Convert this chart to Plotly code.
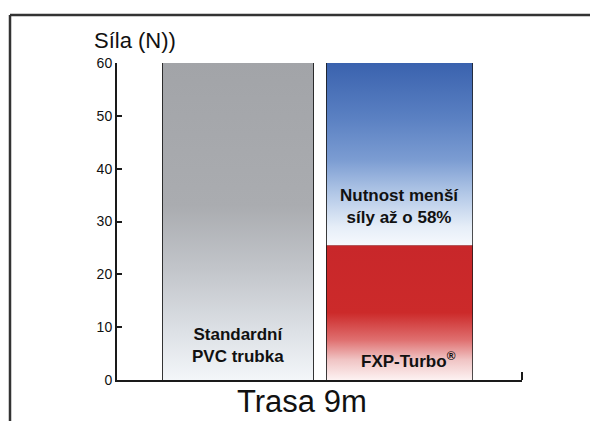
import plotly.graph_objects as go

# ---- data ----
categories = ["Standardní PVC trubka", "FXP-Turbo"]
bar_positions = [0, 1]
bar_widths = [0.93, 0.90]
force_required = [60, 25.5]          # N, force needed (lower segment)
force_saved = [0, 34.5]              # N, difference to PVC (upper segment)
y_ticks = [0, 10, 20, 30, 40, 50, 60]

# ---- gradient styles ----
gray_scale = [[0, "#f3f6f9"], [0.15, "#dde1e6"], [0.35, "#c2c5ca"],
              [0.55, "#aaacb0"], [1, "#a2a4a8"]]
red_scale = [[0, "#fdf2f2"], [0.15, "#f0c4c4"], [0.3, "#df6e6e"],
             [0.5, "#cc2a2a"], [1, "#c8272a"]]
blue_scale = [[0, "#f6f9fd"], [0.1, "#e6eef8"], [0.29, "#b0c6e6"],
              [0.47, "#7b9cd2"], [0.7, "#5a80c2"], [1, "#3a62ae"]]
lower_scales = [gray_scale, red_scale]

fig = go.Figure()

# gradient fills built from the data values
for i, x in enumerate(bar_positions):
    w = bar_widths[i] / 2
    lo, hi = 0, force_required[i]
    fig.add_trace(go.Scatter(
        x=[x - w, x + w, x + w, x - w, x - w], y=[lo, lo, hi, hi, lo],
        mode="lines", line=dict(width=0), fill="toself",
        fillgradient=dict(type="vertical", start=lo, stop=hi,
                          colorscale=lower_scales[i]),
        hoverinfo="skip", showlegend=False))
    if force_saved[i] > 0:
        lo2, hi2 = force_required[i], force_required[i] + force_saved[i]
        fig.add_trace(go.Scatter(
            x=[x - w, x + w, x + w, x - w, x - w], y=[lo2, lo2, hi2, hi2, lo2],
            mode="lines", line=dict(width=0), fill="toself",
            fillgradient=dict(type="vertical", start=lo2, stop=hi2,
                              colorscale=blue_scale),
            hoverinfo="skip", showlegend=False))

# bar outlines
fig.add_trace(go.Bar(x=bar_positions, y=force_required, width=bar_widths,
                     marker=dict(color="rgba(0,0,0,0)", line=dict(color="#1a1a1a", width=2)),
                     showlegend=False, hoverinfo="skip"))
fig.add_trace(go.Bar(x=bar_positions, y=force_saved, width=bar_widths,
                     marker=dict(color="rgba(0,0,0,0)", line=dict(color="#1a1a1a", width=2)),
                     showlegend=False, hoverinfo="skip"))

bold = dict(family="Liberation Sans, Arial, sans-serif", size=17, color="#111")
annotations = [
    dict(x=0, y=6.6, xref="x", yref="y", text="<b>Standardní<br>PVC trubka</b>",
         showarrow=False, font=bold, yanchor="middle"),
    dict(x=1.053, y=3.8, xref="x", yref="y", text="<b>FXP-Turbo<sup>®</sup></b>",
         showarrow=False, font=bold, yanchor="middle"),
    dict(x=1, y=32.9, xref="x", yref="y", text="<b>Nutnost menší<br>síly až o 58%</b>",
         showarrow=False, font=bold, yanchor="middle"),
    dict(x=(92 - 117) / 405, y=(380 - 40) / 317, xref="paper", yref="paper",
         text="Síla (N))", showarrow=False, xanchor="left", yanchor="middle",
         font=dict(family="Liberation Sans, Arial, sans-serif", size=22, color="#111")),
    dict(x=(302 - 117) / 405, y=(380 - 401) / 317, xref="paper", yref="paper",
         text="Trasa 9m", showarrow=False, xanchor="center", yanchor="middle",
         font=dict(family="Liberation Sans, Arial, sans-serif", size=31, color="#111")),
]

shapes = [
    # outer frame (left and top)
    dict(type="line", xref="paper", yref="paper", x0=(10 - 117) / 405, x1=(10 - 117) / 405,
         y0=(380 - 15) / 317, y1=(380 - 425) / 317, line=dict(color="#333", width=2.5)),
    dict(type="line", xref="paper", yref="paper", x0=(10 - 117) / 405, x1=(600 - 117) / 405,
         y0=(380 - 15) / 317, y1=(380 - 15) / 317, line=dict(color="#333", width=2.5)),
    # small end tick on x axis
    dict(type="line", xref="paper", yref="paper", x0=1, x1=1, y0=0, y1=8 / 317,
         line=dict(color="#1a1a1a", width=2)),
]

fig.update_layout(
    width=590, height=413,
    margin=dict(l=109, r=76, t=55, b=41),
    paper_bgcolor="white", plot_bgcolor="white",
    barmode="stack", bargap=0,
    annotations=annotations, shapes=shapes,
    font=dict(family="Liberation Sans, Arial, sans-serif", color="#111"),
    xaxis=dict(range=[-0.749, 1.758], showgrid=False, zeroline=False,
               showticklabels=False, ticks="", showline=True,
               linecolor="#1a1a1a", linewidth=2, fixedrange=True),
    yaxis=dict(range=[0, 60], tickvals=y_ticks, ticks="inside", ticklen=5,
               tickwidth=2, tickcolor="#1a1a1a", showline=True,
               linecolor="#1a1a1a", linewidth=2, showgrid=False, zeroline=False,
               tickfont=dict(size=14, color="#111"), fixedrange=True),
)

fig.write_html("out.html")
